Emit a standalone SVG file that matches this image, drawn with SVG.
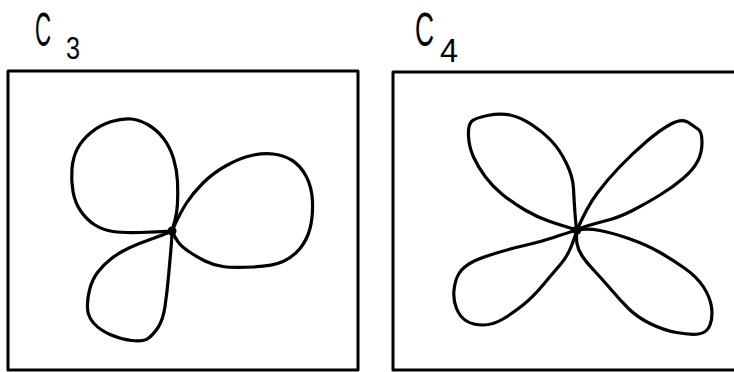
<svg xmlns="http://www.w3.org/2000/svg" width="734" height="372" viewBox="0 0 734 372">
<style>
.frame{fill:none;stroke:#000;stroke-width:3;stroke-linejoin:round;stroke-linecap:round}
.petal{fill:none;stroke:#000;stroke-width:3.2;stroke-linejoin:round;stroke-linecap:round}
.lbl{font-family:"Liberation Sans","DejaVu Sans",sans-serif;fill:#000}
</style>
<rect width="734" height="372" fill="#fff"/>
<g id="c3">
  <text class="lbl" x="35" y="46" font-size="48" textLength="16" lengthAdjust="spacingAndGlyphs">C</text>
  <text class="lbl" x="66" y="59" font-size="32" textLength="14" lengthAdjust="spacingAndGlyphs">3</text>
  <path class="frame" d="M8,370 V71 H358 V370 H8"/>
  <path class="petal" d="M172,231 Q157,232 140,232.5 Q123,233 113,231.5 Q103,230 95,225 Q87,220 81,211.5 Q75,203 73,191.5 Q71,180 72,168.5 Q73,157 77.5,148.5 Q82,140 91,132.5 Q100,125 111.5,121.5 Q123,118 131.5,119 Q140,120 148.5,125 Q157,130 163.5,138.5 Q170,147 173.5,158.5 Q177,170 177.5,181.5 Q178,193 177.5,203 Q177,213 175,220 Q173,227 172,231"/>
  <path class="petal" d="M172,231 Q180,213 186.5,203 Q193,193 203,183 Q213,173 226.5,165.5 Q240,158 251.5,155.5 Q263,153 273,154 Q283,155 291.5,160 Q300,165 306,176 Q312,187 312.5,202 Q313,217 310,228.5 Q307,240 300,248.5 Q293,257 283,261.5 Q273,266 253,267 Q233,268 223,266.5 Q213,265 205,261 Q197,257 189.5,252 Q182,247 178.5,242.5 Q175,238 172,231"/>
  <path class="petal" d="M172,231 Q163,235 151.5,239 Q140,243 130,247.5 Q120,252 111.5,258.5 Q103,265 97.5,272.5 Q92,280 89.5,290 Q87,300 87.5,308.5 Q88,317 94,323.5 Q100,330 110,334.5 Q120,339 131.5,340.5 Q143,342 148,338.5 Q153,335 158,327.5 Q163,320 165,306.5 Q167,293 168.5,276.5 Q170,260 171,248.5 Q172,237 172,231"/>
  <circle cx="172" cy="231" r="4.5" fill="#000"/>
</g>
<g id="c4">
  <text class="lbl" x="415" y="46" font-size="48" textLength="19" lengthAdjust="spacingAndGlyphs">C</text>
  <text class="lbl" x="440" y="62" font-size="33" textLength="18" lengthAdjust="spacingAndGlyphs">4</text>
  <path class="frame" d="M740,72 H393 V370 H740"/>
  <path class="petal" d="M577,230 Q560,225 548.5,221 Q537,217 525,210 Q513,203 503,195 Q493,187 485.5,177 Q478,167 473.5,157 Q469,147 468.5,136 Q468,125 471.5,121.5 Q475,118 487.5,115.5 Q500,113 510,115 Q520,117 531.5,124.5 Q543,132 551.5,141 Q560,150 566.5,163.5 Q573,177 573.5,188.5 Q574,200 575,213.5 Q576,227 577,230"/>
  <path class="petal" d="M577,230 Q587,207 597,193.5 Q607,180 620,166.5 Q633,153 646.5,141.5 Q660,130 671,124 Q682,118 688.5,122.5 Q695,127 698.5,129.5 Q702,132 702,142.5 Q702,153 697.5,161.5 Q693,170 683,178.5 Q673,187 660,195 Q647,203 633.5,210 Q620,217 608.5,220 Q597,223 588.5,225.5 Q580,228 577,230"/>
  <path class="petal" d="M577,230 Q587,228 600,230.5 Q613,233 630,239 Q647,245 660,252.5 Q673,260 685,268.5 Q697,277 703.5,287 Q710,297 711.5,307 Q713,317 710,325 Q707,333 698.5,334 Q690,335 676.5,332.5 Q663,330 650,323.5 Q637,317 628.5,308.5 Q620,300 611.5,290 Q603,280 595,271.5 Q587,263 582.5,256.5 Q578,250 577,243.5 Q576,237 577,230"/>
  <path class="petal" d="M577,230 Q567,233 553.5,237.5 Q540,242 526.5,245 Q513,248 496.5,253 Q480,258 471.5,262.5 Q463,267 459,273.5 Q455,280 454,290 Q453,300 456.5,308.5 Q460,317 466.5,321 Q473,325 483,325 Q493,325 503,319 Q513,313 523,305 Q533,297 543,285 Q553,273 560,265 Q567,257 571,247 Q575,237 577,230"/>
  <circle cx="577" cy="230" r="4.5" fill="#000"/>
</g>
</svg>
